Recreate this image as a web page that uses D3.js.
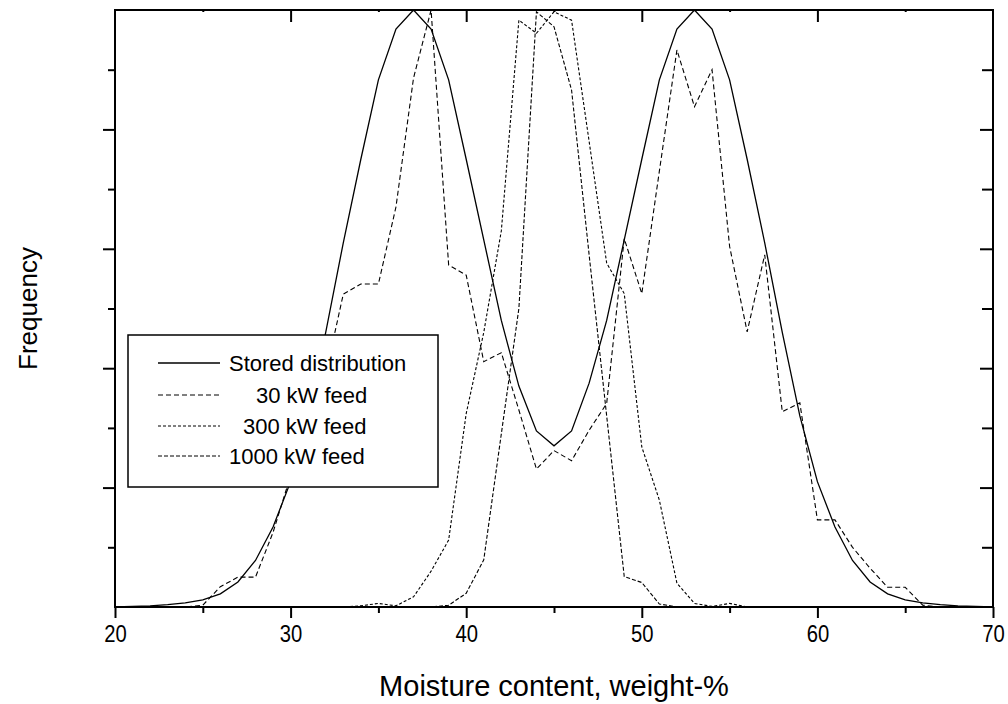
<!DOCTYPE html>
<html>
<head>
<meta charset="utf-8">
<script src="https://cdn.jsdelivr.net/npm/d3@7"></script>
<style>
  html, body { margin: 0; padding: 0; background: #fff; }
  svg { display: block; }
  text { font-family: "Liberation Sans", Arial, sans-serif; fill: #000; }
</style>
</head>
<body>
<svg id="chart" width="1008" height="704"></svg>
<script>
// ---- data ----
const moisture = [20,21,22,23,24,25,26,27,28,29,30,31,32,33,34,35,36,37,38,39,40,41,42,43,44,45,
                  46,47,48,49,50,51,52,53,54,55,56,57,58,59,60,61,62,63,64,65,66,67,68,69,70];
const stored = [0,0.001,0.002,0.004,0.007,0.012,0.022,0.042,0.078,0.134,0.21,0.32,0.46,0.61,0.75,0.883,0.968,1.0,0.968,0.883,0.75,0.615,0.48,0.37,0.295,0.27,
                0.295,0.375,0.48,0.615,0.75,0.883,0.968,1.0,0.968,0.883,0.75,0.61,0.46,0.32,0.21,0.134,0.078,0.042,0.022,0.012,0.007,0.004,0.002,0.001,0];
const feed30 = [0,0,0,0,0,0.003,0.034,0.05,0.05,0.125,0.22,0.31,0.39,0.524,0.541,0.541,0.67,0.886,1.0,0.573,0.556,0.411,0.426,0.33,0.231,0.262,
                0.245,0.296,0.341,0.617,0.525,0.73,0.933,0.838,0.9,0.604,0.461,0.59,0.327,0.342,0.146,0.146,0.1,0.065,0.033,0.033,0.003,0,0,0,0];
const feed300 = [0,0,0,0,0,0,0,0,0,0,0,0,0,0,0.002,0.006,0.002,0.017,0.06,0.112,0.324,0.46,0.63,0.983,0.961,0.997,
                 0.983,0.78,0.576,0.525,0.268,0.179,0.04,0.006,0.001,0.006,0,0,0,0,0,0,0,0,0,0,0,0,0,0,0];
const feed1000 = [0,0,0,0,0,0,0,0,0,0,0,0,0,0,0,0,0,0,0,0.003,0.023,0.079,0.29,0.5,0.997,0.972,
                  0.866,0.59,0.32,0.051,0.041,0.005,0,0,0,0,0,0,0,0,0,0,0,0,0,0,0,0,0,0,0];
const seriesNames = ["Stored distribution", "30 kW feed", "300 kW feed", "1000 kW feed"];
const xTickValues = [20,30,40,50,60,70];
const xMinorTickValues = [25,35,45,55,65];
const yMajorTickValues = [0.2,0.4,0.6,0.8];
const yMinorTickValues = [0.1,0.3,0.5,0.7,0.9];
const xTitle = "Moisture content, weight-%";
const yTitle = "Frequency";

// ---- layout ----
const svg = d3.select("#chart");
const L = 115, R = 993, T = 10, B = 607;
const x = d3.scaleLinear().domain([20, 70]).range([L, R]);
const y = d3.scaleLinear().domain([0, 1]).range([B, T]);

const seriesData = [stored, feed30, feed300, feed1000];
const dashes = [null, "5,3", "3,2", "4,2"];
const widths = [1.3, 1.1, 1.1, 1.1];
const legendLabelX = [229, 256, 243, 229];

const line = d3.line().x((d, i) => x(moisture[i])).y(d => y(d));

const plot = svg.append("g");
seriesData.forEach((s, k) => {
  plot.append("path")
    .datum(s)
    .attr("d", line)
    .attr("fill", "none")
    .attr("stroke", "#000")
    .attr("stroke-width", widths[k])
    .attr("stroke-linejoin", "miter")
    .attr("stroke-dasharray", dashes[k]);
});

// ---- axes ----
function styleAxis(g) {
  g.selectAll(".domain").remove();
  g.selectAll(".tick line").attr("stroke", "#000").attr("stroke-width", 2);
}
// bottom, major (outward) with labels
const bottom = svg.append("g").attr("transform", `translate(0,${B})`)
  .call(d3.axisBottom(x).tickValues(xTickValues).tickSize(11).tickPadding(7).tickFormat(d3.format("d")));
styleAxis(bottom);
bottom.selectAll(".tick text")
  .attr("font-size", 23)
  .attr("font-family", "Liberation Sans, Arial, sans-serif")
  .attr("fill", "#000")
  .attr("dy", "0.74em")
  .attr("transform", "scale(0.88,1)");
svg.append("g").attr("transform", `translate(0,${B})`)
  .call(d3.axisBottom(x).tickValues(xMinorTickValues).tickSize(6).tickFormat(""))
  .call(styleAxis);
// top, inward
svg.append("g").attr("transform", `translate(0,${T})`)
  .call(d3.axisTop(x).tickValues([30,40,50,60]).tickSize(-12).tickFormat(""))
  .call(styleAxis);
svg.append("g").attr("transform", `translate(0,${T})`)
  .call(d3.axisTop(x).tickValues(xMinorTickValues).tickSize(-2).tickFormat(""))
  .call(styleAxis);
// left, outward
svg.append("g").attr("transform", `translate(${L},0)`)
  .call(d3.axisLeft(y).tickValues(yMajorTickValues).tickSize(12).tickFormat(""))
  .call(styleAxis);
svg.append("g").attr("transform", `translate(${L},0)`)
  .call(d3.axisLeft(y).tickValues(yMinorTickValues).tickSize(7).tickFormat(""))
  .call(styleAxis);
// right, inward
svg.append("g").attr("transform", `translate(${R},0)`)
  .call(d3.axisRight(y).tickValues(yMajorTickValues).tickSize(-13).tickFormat(""))
  .call(styleAxis);
svg.append("g").attr("transform", `translate(${R},0)`)
  .call(d3.axisRight(y).tickValues(yMinorTickValues).tickSize(-11).tickFormat(""))
  .call(styleAxis);

// frame
svg.append("rect").attr("x", L).attr("y", T).attr("width", R - L).attr("height", B - T)
  .attr("fill", "none").attr("stroke", "#000").attr("stroke-width", 2);

// titles
svg.append("text").attr("x", 554).attr("y", 696)
  .attr("text-anchor", "middle").attr("font-size", 29).text(xTitle);
svg.append("text").attr("transform", `translate(37,${(T + B) / 2}) rotate(-90)`)
  .attr("text-anchor", "middle").attr("font-size", 26).text(yTitle);

// legend
const lg = svg.append("g");
lg.append("rect").attr("x", 128).attr("y", 335).attr("width", 310).attr("height", 152)
  .attr("fill", "#fff").attr("stroke", "#000").attr("stroke-width", 1.5);
const rowY = [363, 395, 426, 456];
seriesNames.forEach((name, k) => {
  lg.append("line").attr("x1", 158).attr("x2", 220).attr("y1", rowY[k]).attr("y2", rowY[k])
    .attr("stroke", "#000").attr("stroke-width", k === 0 ? 1.3 : 1)
    .attr("stroke-dasharray", dashes[k]);
  lg.append("text").attr("x", legendLabelX[k]).attr("y", rowY[k] + 8)
    .attr("font-size", 22).text(name);
});
</script>
</body>
</html>
